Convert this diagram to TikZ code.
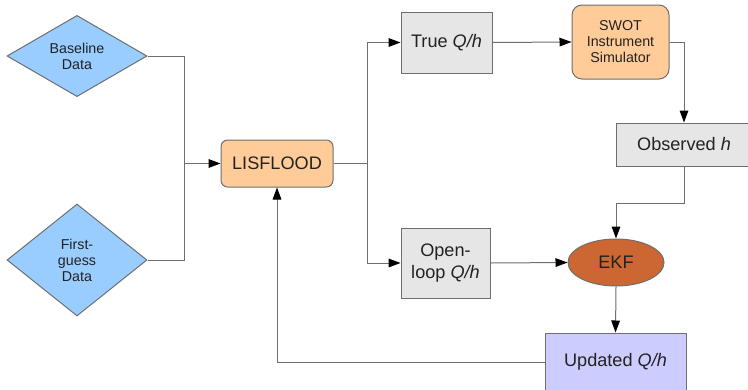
\documentclass[tikz,border=0pt]{standalone}
\usepackage{fontspec}
\setmainfont{Liberation Sans}
\usetikzlibrary{shapes.geometric,arrows.meta}
\definecolor{dblue}{HTML}{99CCFF}
\definecolor{orng}{HTML}{FFCC99}
\definecolor{gbox}{HTML}{E6E6E6}
\definecolor{ekfc}{HTML}{CC6633}
\definecolor{updc}{HTML}{CCCCFF}
\definecolor{linec}{HTML}{6E6E6E}
\definecolor{txtc}{HTML}{222222}
\begin{document}
\begin{tikzpicture}[x=0.75pt,y=-0.75pt,
  every node/.style={text=txtc,inner sep=0pt,align=center},
  bigtxt/.style={font=\fontsize{13.6}{16.3}\selectfont},
  smalltxt/.style={font=\fontsize{10.7}{12}\selectfont},
  datad/.style={diamond,draw=linec,line width=0.75pt,fill=dblue,smalltxt},
  orbox/.style={rectangle,rounded corners=5pt,draw=linec,line width=0.75pt,fill=orng},
  grbox/.style={rectangle,draw=linec,line width=0.75pt,fill=gbox,bigtxt},
  conn/.style={draw=linec,line width=0.75pt},
  arr/.style={conn,-{Triangle[length=9pt,width=6.5pt,color=black]}}
]
\useasboundingbox (0,0) rectangle (748,389);
\node[datad,minimum width=105pt,minimum height=59.25pt] (base) at (77,56) {Baseline\\Data};
\node[datad,minimum width=105pt,minimum height=84pt] (first) at (77,260) {First-\\guess\\Data};
\node[orbox,bigtxt,minimum width=84pt,minimum height=35.25pt] (lis) at (277,163.5) {LISFLOOD};
\node[grbox,minimum width=68.25pt,minimum height=45.75pt] (true) at (446.5,42.5) {True \textit{Q/h}};
\node[orbox,rounded corners=7.5pt,smalltxt,minimum width=72.75pt,minimum height=55.5pt] (swot) at (620.5,42) {SWOT\\Instrument\\Simulator};
\node[grbox,minimum width=102pt,minimum height=32.25pt] (obs) at (684,144.5) {Observed \textit{h}};
\node[grbox,minimum width=66.75pt,minimum height=52.5pt] (open) at (445.5,263) {Open-\\loop \textit{Q/h}};
\node[ellipse,draw=linec,line width=0.75pt,fill=ekfc,bigtxt,minimum width=72pt,minimum height=35.25pt] (ekf) at (616,262.5) {EKF};
\node[rectangle,draw=linec,line width=0.75pt,fill=updc,bigtxt,minimum width=105.75pt,minimum height=43.5pt] (upd) at (615.5,362) {Updated \textit{Q/h}};
\coordinate (jl) at (184,163.5);
\coordinate (jr) at (367,163.5);
\coordinate (k) at (616,203);
\draw[conn] (base.east) -| (jl);
\draw[conn] (first.east) -| (jl);
\draw[arr] (jl) -- (lis.west);
\draw[conn] (lis.east) -- (jr);
\draw[arr] (jr) |- (true.west);
\draw[arr] (jr) |- (open.west);
\draw[arr] (true.east) -- (swot.west);
\draw[arr] (swot.east) -| (obs.north);
\draw[arr] (obs.south) |- (k) -- (ekf.north);
\draw[arr] (open.east) -- (ekf.west);
\draw[arr] (ekf.south) -- (upd.north);
\draw[arr] (upd.west) -| (lis.south);
\end{tikzpicture}
\end{document}
